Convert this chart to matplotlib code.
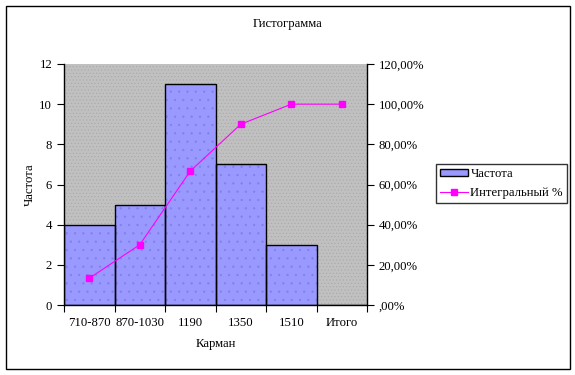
import matplotlib
matplotlib.use('Agg')
from matplotlib import pyplot as plt
from matplotlib.patches import Rectangle
import numpy as np

categories = ['710-870', '870-1030', '1190', '1350', '1510', 'Итого']
freq = [4, 5, 11, 7, 3, 0]
cum_pct = [13.33, 30.0, 66.67, 90.0, 100.0, 100.0]

plt.rcParams['font.family'] = ['Liberation Serif', 'DejaVu Serif']
plt.rcParams['font.size'] = 9.2
plt.rcParams['hatch.linewidth'] = 0.4

fig = plt.figure(figsize=(5.75, 3.75), dpi=100)
fig.patches.append(Rectangle((6 / 575, 6 / 375), 564 / 575, 363 / 375, transform=fig.transFigure,
                             fill=False, edgecolor='black', linewidth=1.0))

ax = fig.add_axes([64 / 575, 1 - 305 / 375, 303 / 575, 241 / 375])
ax.set_facecolor('#c0c0c0')
bg = Rectangle((0, 0), 1, 1, transform=ax.transAxes, facecolor='none', edgecolor='#a8a8a8',
               hatch='.....', linewidth=0, zorder=0)
ax.add_patch(bg)

x = np.arange(len(categories))
# fill with faint dots, then black outlines on top
fill = ax.bar(x, freq, width=1.0, color='#9999ff', edgecolor='#8080e8', linewidth=0, zorder=2)
for b in fill:
    b.set_hatch('..')
bars = ax.bar(x, freq, width=1.0, facecolor='none', edgecolor='black', linewidth=1.0, zorder=2.1)
ax.set_xlim(-0.5, len(categories) - 0.5)
ax.set_ylim(0, 12)
ax.set_yticks(range(0, 13, 2))
ax.set_xticks(np.arange(-0.5, len(categories), 1.0), minor=False)
ax.set_xticklabels([])
ax.set_xticks(x, minor=True)
ax.set_xticklabels(categories, minor=True)
ax.tick_params(axis='x', which='minor', length=0, pad=9)
ax.tick_params(axis='x', which='major', direction='out', length=5)
ax.tick_params(axis='y', direction='out', length=5)
for s in ['top', 'right']:
    ax.spines[s].set_visible(False)
ax.spines['left'].set_linewidth(1.0)
ax.spines['bottom'].set_linewidth(1.0)
ax.set_ylabel('Частота')
ax.yaxis.set_label_coords(-28 / 303, 0.5)
ax.set_xlabel('Карман', labelpad=6)
fig.text(288 / 575, 1 - 24 / 375, 'Гистограмма', ha='center', va='center')

ax2 = ax.twinx()
line, = ax2.plot(x, cum_pct, color='#ff00ff', linewidth=0.8, marker='s', markersize=5, zorder=3)
ax2.set_ylim(0, 120)
ax2.set_yticks(range(0, 121, 20))
ax2.set_yticklabels([f'{v},00%' if v else ',00%' for v in range(0, 121, 20)])
ax2.tick_params(axis='y', direction='out', length=5)
for s in ['top', 'left', 'bottom']:
    ax2.spines[s].set_visible(False)
ax2.spines['right'].set_linewidth(1.0)

handle = Rectangle((0, 0), 1, 1, facecolor='#9999ff', edgecolor='black', linewidth=1.0)
leg = fig.legend([handle, line], ['Частота', 'Интегральный %'],
                 loc='upper left', bbox_to_anchor=(436 / 575, 1 - 164 / 375),
                 frameon=True, fancybox=False, edgecolor='black', borderaxespad=0,
                 handlelength=2.2, handleheight=0.5, handletextpad=0.2, borderpad=0.3,
                 labelspacing=0.6)
leg.get_frame().set_linewidth(1.0)

fig.savefig('out.png', dpi=100)
